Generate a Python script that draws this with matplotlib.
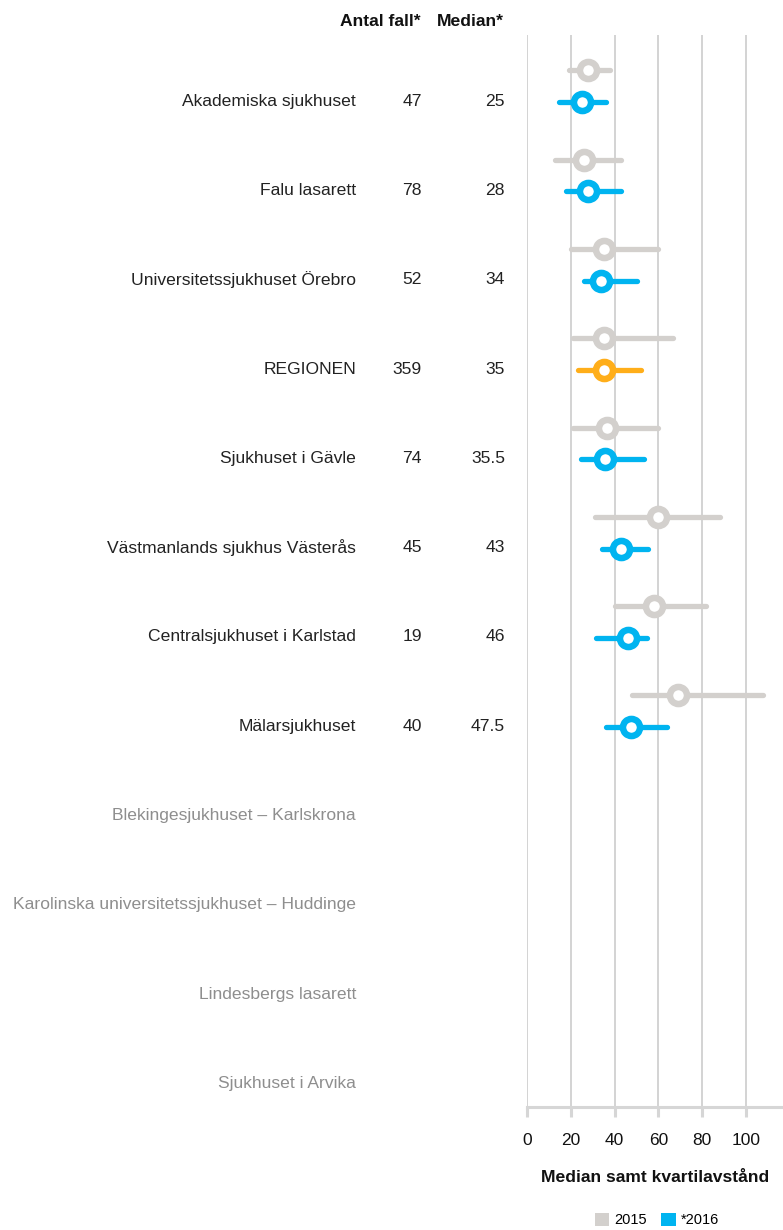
import matplotlib.pyplot as plt
import matplotlib.transforms as mtransforms
from matplotlib.patches import Patch

plt.rcParams['font.family'] = ['Liberation Sans', 'DejaVu Sans']

hospitals = [
    'Akademiska sjukhuset',
    'Falu lasarett',
    'Universitetssjukhuset Örebro',
    'REGIONEN',
    'Sjukhuset i Gävle',
    'Västmanlands sjukhus Västerås',
    'Centralsjukhuset i Karlstad',
    'Mälarsjukhuset',
    'Blekingesjukhuset – Karlskrona',
    'Karolinska universitetssjukhuset – Huddinge',
    'Lindesbergs lasarett',
    'Sjukhuset i Arvika',
]
antal_fall = ['47', '78', '52', '359', '74', '45', '19', '40', '', '', '', '']
median_txt = ['25', '28', '34', '35', '35.5', '43', '46', '47.5', '', '', '', '']

# 2015: lower quartile, median, upper quartile
q1_2015 = [19, 13, 20, 21, 21, 31, 40, 48]
med_2015 = [28, 26, 35, 35, 36.5, 60, 58, 69]
q3_2015 = [38, 43, 60, 66.5, 60, 88, 82, 108]
# 2016
q1_2016 = [14.5, 18, 26, 23.5, 24.5, 34.5, 31.5, 36]
med_2016 = [25, 28, 34, 35, 35.5, 43, 46, 47.5]
q3_2016 = [36, 43, 50.5, 52, 53.5, 55.5, 55, 64]

c2015 = '#d3d0cd'
c2016 = '#00b4f0'
cregion = '#ffae1a'

fig = plt.figure(figsize=(7.83, 12.3), dpi=100)
ax = fig.add_axes([527 / 783, 1 - 1106.7 / 1230, 1 - 527 / 783, (1106.7 - 35) / 1230])

ax.set_xlim(0, 117)
ax.set_ylim(11.26, -0.74)

for x in range(0, 101, 20):
    ax.axvline(x, color='#c8c8c8', lw=1.1, zorder=0)

for i in range(len(med_2015)):
    y15 = i - 0.345
    ax.plot([q1_2015[i], q3_2015[i]], [y15, y15], color=c2015, lw=3.8,
            solid_capstyle='round', zorder=2)
    ax.plot(med_2015[i], y15, 'o', ms=12.3, mfc='white', mec=c2015, mew=4.7, zorder=3)
    col = cregion if hospitals[i] == 'REGIONEN' else c2016
    y16 = i + 0.01
    ax.plot([q1_2016[i], q3_2016[i]], [y16, y16], color=col, lw=3.8,
            solid_capstyle='round', zorder=2)
    ax.plot(med_2016[i], y16, 'o', ms=12.3, mfc='white', mec=col, mew=4.7, zorder=3)

for s in ['top', 'right', 'left']:
    ax.spines[s].set_visible(False)
ax.spines['bottom'].set_color('#d6d6d6')
ax.spines['bottom'].set_linewidth(2.2)
ax.set_yticks([])
ax.set_xticks(range(0, 101, 20))
ax.tick_params(axis='x', length=7, width=2.2, color='#d6d6d6', labelsize=12.5,
               pad=12, labelcolor='#111111')
ax.set_xlabel('Median samt kvartilavstånd', fontsize=12.6, fontweight='bold',
              labelpad=16, color='#111111')

fs = 12.6
trans = mtransforms.blended_transform_factory(fig.transFigure, ax.transData)
for i, name in enumerate(hospitals):
    color = '#222222' if i < 8 else '#8e8e8e'
    fig.text(356 / 783, i, name, transform=trans, ha='right', va='center',
             fontsize=fs, color=color)
    fig.text(422 / 783, i, antal_fall[i], transform=trans, ha='right', va='center',
             fontsize=fs, color='#222222')
    fig.text(505 / 783, i, median_txt[i], transform=trans, ha='right', va='center',
             fontsize=fs, color='#222222')

fig.text(421 / 783, 1 - 22 / 1230, 'Antal fall*', ha='right', va='center',
         fontsize=fs, fontweight='bold', color='#111111')
fig.text(504 / 783, 1 - 22 / 1230, 'Median*', ha='right', va='center',
         fontsize=fs, fontweight='bold', color='#111111')

handles = [Patch(facecolor=c2015, label='2015'), Patch(facecolor=c2016, label='*2016')]
fig.legend(handles=handles, loc='center', bbox_to_anchor=(657 / 783, 1 - 1220 / 1230),
           ncol=2, frameon=False, fontsize=10.5, handlelength=1.0, handleheight=1.0,
           handletextpad=0.35, columnspacing=1.0)

fig.savefig('out.png', dpi=100)
